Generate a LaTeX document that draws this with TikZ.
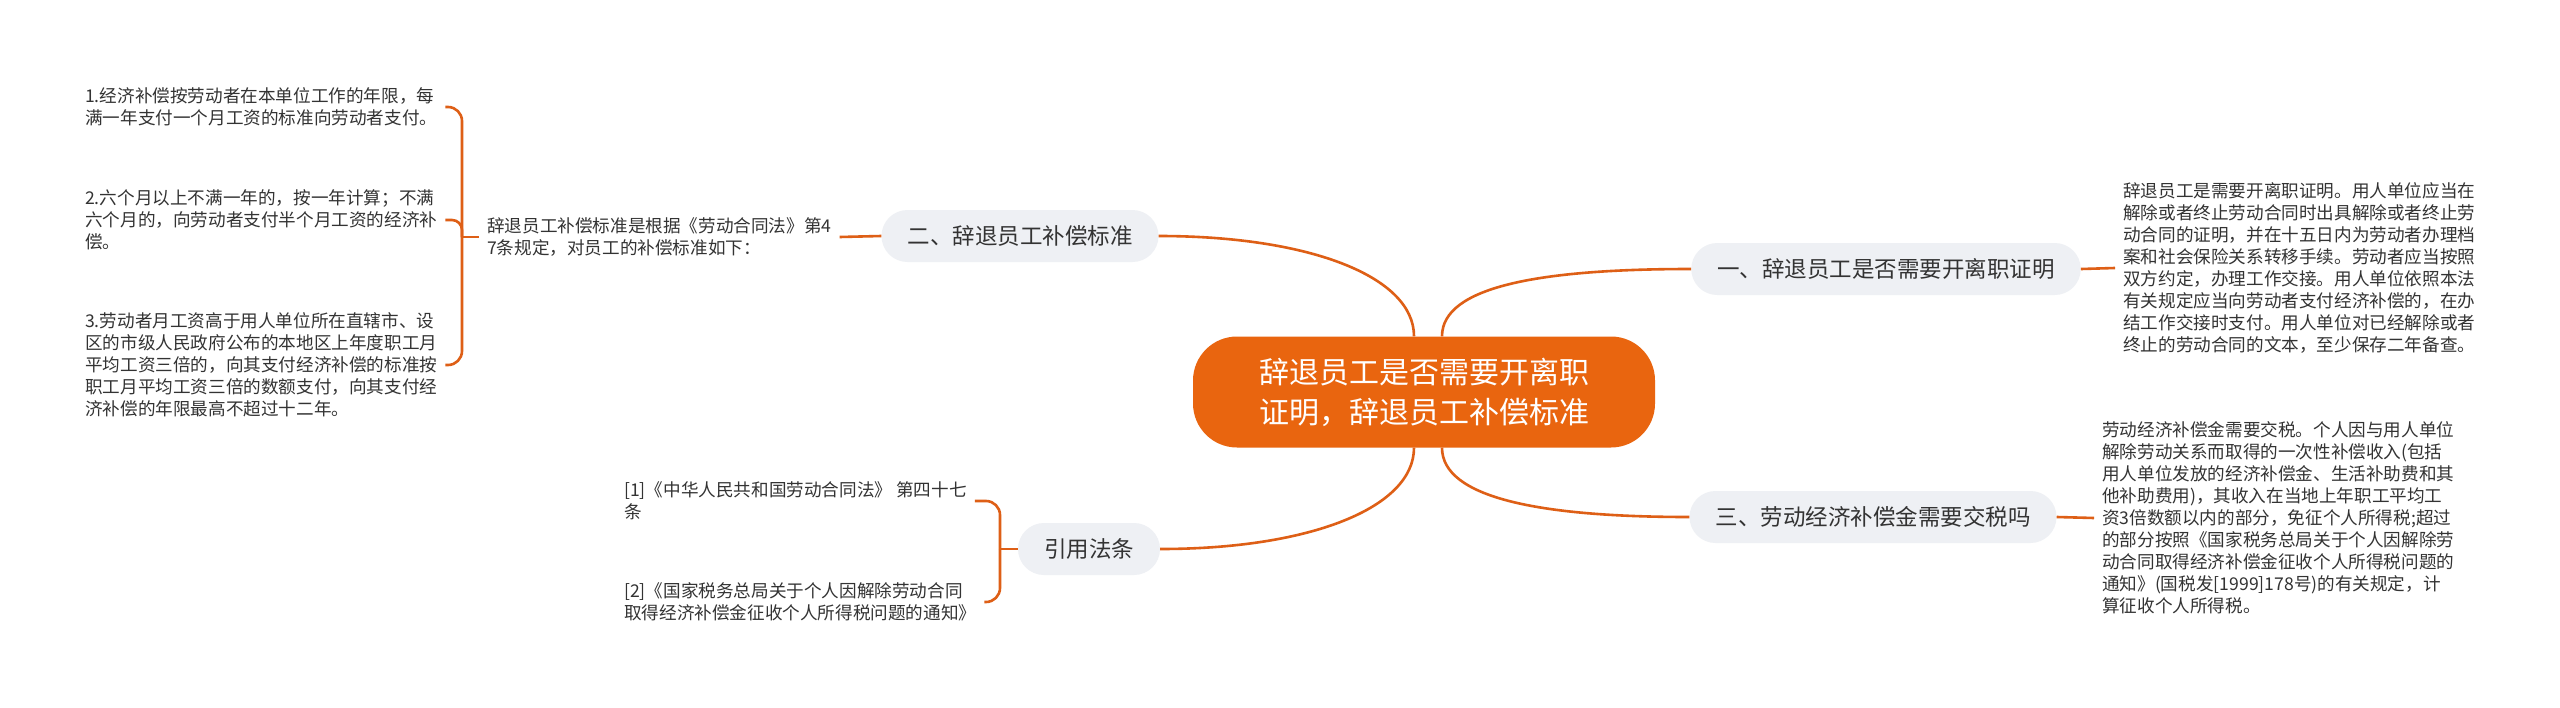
\documentclass[tikz,border=0pt]{standalone}
\usepackage{fontspec}
\setmainfont{Noto Sans CJK SC}
\usetikzlibrary{calc}
\definecolor{lk}{HTML}{DE5F16}
\definecolor{cfill}{HTML}{E9650F}
\definecolor{bfill}{HTML}{EEF0F4}
\definecolor{tx}{HTML}{333333}
\tikzset{
  link/.style={draw=lk, line width=2.6pt},
  leaf/.style={anchor=west, align=left, inner xsep=8pt, inner ysep=4pt, font=\fontsize{17.6}{22}\selectfont, text=tx},
  branch/.style={fill=bfill, rounded corners=26pt, minimum height=52pt, inner xsep=26pt, font=\fontsize{22.5}{27}\selectfont, text=tx},
  root/.style={fill=cfill, rounded corners=44pt, minimum width=462pt, minimum height=111pt, align=center, text=white, font=\fontsize{30}{40}\selectfont}
}
\begin{document}
\begin{tikzpicture}[x=1pt,y=-1pt]
\fill[white] (0,0) rectangle (2560,707);
\useasboundingbox (0,0) rectangle (2560,707);

% root and branches
\node[root] (c) at (1424,392) {辞退员工是否需要开离职\\证明，辞退员工补偿标准};
\node[branch] (b2) at (1020,236) {二、辞退员工补偿标准};
\node[branch] (b1) at (1886,269) {一、辞退员工是否需要开离职证明};
\node[branch] (b3) at (1873,517) {三、劳动经济补偿金需要交税吗};
\node[branch] (bref) at (1089,549) {引用法条};

% leaves
\node[leaf] (mid) at (479,237) {辞退员工补偿标准是根据《劳动合同法》第4\\7条规定，对员工的补偿标准如下：};
\node[leaf] (t1) at (77,107) {1.经济补偿按劳动者在本单位工作的年限，每\\满一年支付一个月工资的标准向劳动者支付。};
\node[leaf] (t2) at (77,220) {2.六个月以上不满一年的，按一年计算；不满\\六个月的，向劳动者支付半个月工资的经济补\\偿。};
\node[leaf] (t3) at (77,365) {3.劳动者月工资高于用人单位所在直辖市、设\\区的市级人民政府公布的本地区上年度职工月\\平均工资三倍的，向其支付经济补偿的标准按\\职工月平均工资三倍的数额支付，向其支付经\\济补偿的年限最高不超过十二年。};
\node[leaf] (r1) at (2115,268) {辞退员工是需要开离职证明。用人单位应当在\\解除或者终止劳动合同时出具解除或者终止劳\\动合同的证明，并在十五日内为劳动者办理档\\案和社会保险关系转移手续。劳动者应当按照\\双方约定，办理工作交接。用人单位依照本法\\有关规定应当向劳动者支付经济补偿的，在办\\结工作交接时支付。用人单位对已经解除或者\\终止的劳动合同的文本，至少保存二年备查。};
\node[leaf] (r3) at (2094,518) {劳动经济补偿金需要交税。个人因与用人单位\\解除劳动关系而取得的一次性补偿收入(包括\\用人单位发放的经济补偿金、生活补助费和其\\他补助费用)，其收入在当地上年职工平均工\\资3倍数额以内的部分，免征个人所得税;超过\\的部分按照《国家税务总局关于个人因解除劳\\动合同取得经济补偿金征收个人所得税问题的\\通知》(国税发[1999]178号)的有关规定，计\\算征收个人所得税。};
\node[leaf] (c1) at (616,501) {[1]《中华人民共和国劳动合同法》 第四十七\\条};
\node[leaf] (c2) at (616,602) {[2]《国家税务总局关于个人因解除劳动合同\\取得经济补偿金征收个人所得税问题的通知》};

% root connectors
\draw[link] (b2.east) .. controls +(150,0) and +(0,-60) .. ($(c.north)+(-10,0)$);
\draw[link] ($(c.north)+(18,0)$) .. controls +(0,-50) and +(-150,0) .. (b1.west);
\draw[link] (bref.east) .. controls +(150,0) and +(0,60) .. ($(c.south)+(-10,0)$);
\draw[link] ($(c.south)+(18,0)$) .. controls +(0,50) and +(-150,0) .. (b3.west);

% branch to leaves
\draw[link] (b2.west) -- (mid.east);
\draw[link] (b1.east) -- (r1.west);
\draw[link] (b3.east) -- (r3.west);

% left bracket
\coordinate (bxa) at (462,0);
\draw[link] (mid.west) -- (mid.west -| bxa);
\draw[link, rounded corners=14pt] (mid.west -| bxa) |- (t1.east);
\draw[link, rounded corners=10pt] (mid.west -| bxa) |- (t2.east);
\draw[link, rounded corners=14pt] (mid.west -| bxa) |- (t3.east);

% citation bracket
\coordinate (bxb) at (1000,0);
\draw[link] (bref.west) -- (bref.west -| bxb);
\draw[link, rounded corners=14pt] (bref.west -| bxb) |- (c1.east);
\draw[link, rounded corners=14pt] (bref.west -| bxb) |- (c2.east);
\end{tikzpicture}
\end{document}
